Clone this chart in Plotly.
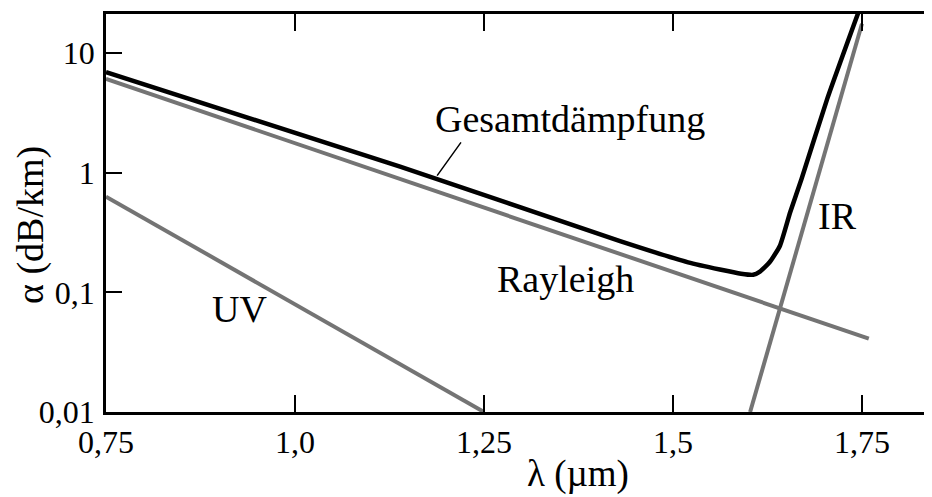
import math
import plotly.graph_objects as go

# ---- data ----
total_x = [0.75, 1.139, 1.43, 1.52, 1.562, 1.59, 1.606, 1.615, 1.628, 1.6415, 1.655, 1.670, 1.704, 1.745]
total_y = [6.92, 1.12, 0.268, 0.178, 0.155, 0.143, 0.140, 0.149, 0.179, 0.245, 0.466, 0.883, 4.13, 21.6]

rayleigh_x = [0.75, 1.759]
rayleigh_y = [6.07, 0.041]

uv_x = [0.75, 1.25]
uv_y = [0.63, 0.01]

ir_x = [1.602, 1.750]
ir_y = [0.01, 17.5]

x_ticks = [0.75, 1.0, 1.25, 1.5, 1.75]
x_ticktext = ["0,75", "1,0", "1,25", "1,5", "1,75"]
y_ticks = [0.01, 0.1, 1, 10]
y_ticktext = ["0,01", "0,1", "1", "10"]

labels = ["Gesamtdämpfung", "Rayleigh", "UV", "IR"]
label_x = [1.364, 1.358, 0.926, 1.718]
label_y = [2.81, 0.129, 0.0724, 0.434]

leader_from = (1.221, 1.84)
leader_to = (1.188, 0.944)

X_RANGE = [0.75, 1.8426]
Y_RANGE_LOG = [-2.0, 1.325]

FONT = "Liberation Serif, Times New Roman, serif"
GRAY = "#747474"

fig = go.Figure()
fig.add_trace(go.Scatter(x=rayleigh_x, y=rayleigh_y, mode="lines",
                         line=dict(color=GRAY, width=4), name="Rayleigh"))
fig.add_trace(go.Scatter(x=uv_x, y=uv_y, mode="lines",
                         line=dict(color=GRAY, width=4), name="UV"))
fig.add_trace(go.Scatter(x=ir_x, y=ir_y, mode="lines",
                         line=dict(color=GRAY, width=4), name="IR"))
fig.add_trace(go.Scatter(x=total_x, y=total_y, mode="lines",
                         line=dict(color="black", width=4.5, shape="spline", smoothing=0.5),
                         name="Gesamtdämpfung"))
# empty trace so the right-hand (mirrored) tick axis is drawn
fig.add_trace(go.Scatter(x=[None], y=[None], yaxis="y2", mode="lines",
                         showlegend=False, hoverinfo="skip"))

for t, xx, yy in zip(labels, label_x, label_y):
    fig.add_annotation(x=xx, y=math.log10(yy), text=t, showarrow=False,
                       xanchor="center", yanchor="middle",
                       font=dict(family=FONT, size=38, color="black"))

fig.add_annotation(x=leader_to[0], y=math.log10(leader_to[1]),
                   ax=leader_from[0], ay=math.log10(leader_from[1]),
                   axref="x", ayref="y", text="", showarrow=True, arrowhead=0,
                   arrowwidth=1.5, arrowcolor="black")

# figure is offset by the page's 8px body margin; plot area targets x 106..932, y 14..412
PW, PH = 826, 398
fig.add_annotation(xref="paper", yref="paper", x=(578 - 106) / PW, y=0, yshift=-62,
                   text="λ (µm)", showarrow=False, xanchor="center", yanchor="middle",
                   font=dict(family=FONT, size=37, color="black"))
fig.add_annotation(xref="paper", yref="paper", x=0, xshift=-76, y=(412 - 225) / PH,
                   text="α (dB/km)", showarrow=False, textangle=-90,
                   xanchor="center", yanchor="middle",
                   font=dict(family=FONT, size=38, color="black"))

fig.update_layout(
    width=924, height=489,
    margin=dict(l=98, r=0, t=6, b=85),
    paper_bgcolor="white", plot_bgcolor="white",
    showlegend=False,
    font=dict(family=FONT, color="black"),
    xaxis=dict(range=X_RANGE, tickvals=x_ticks, ticktext=x_ticktext,
               ticks="inside", ticklen=17, tickwidth=2, tickcolor="black",
               showline=True, linewidth=2.5, linecolor="black", mirror="ticks",
               showgrid=False, zeroline=False, tickfont=dict(family=FONT, size=32, color="black"),
               ticklabelstandoff=0, automargin=False),
    yaxis=dict(type="log", range=Y_RANGE_LOG, tickvals=y_ticks, ticktext=y_ticktext,
               ticks="inside", ticklen=16, tickwidth=2, tickcolor="black",
               showline=True, linewidth=2.5, linecolor="black",
               showgrid=False, zeroline=False, tickfont=dict(family=FONT, size=32, color="black"),
               ticklabelstandoff=2, automargin=False),
    yaxis2=dict(type="log", range=Y_RANGE_LOG, overlaying="y", side="right",
                tickvals=[0.1, 1, 10], ticks="inside", ticklen=7, tickwidth=2, tickcolor="black",
                showticklabels=False, showline=False, showgrid=False, zeroline=False,
                automargin=False),
)

fig.write_html("out.html")
